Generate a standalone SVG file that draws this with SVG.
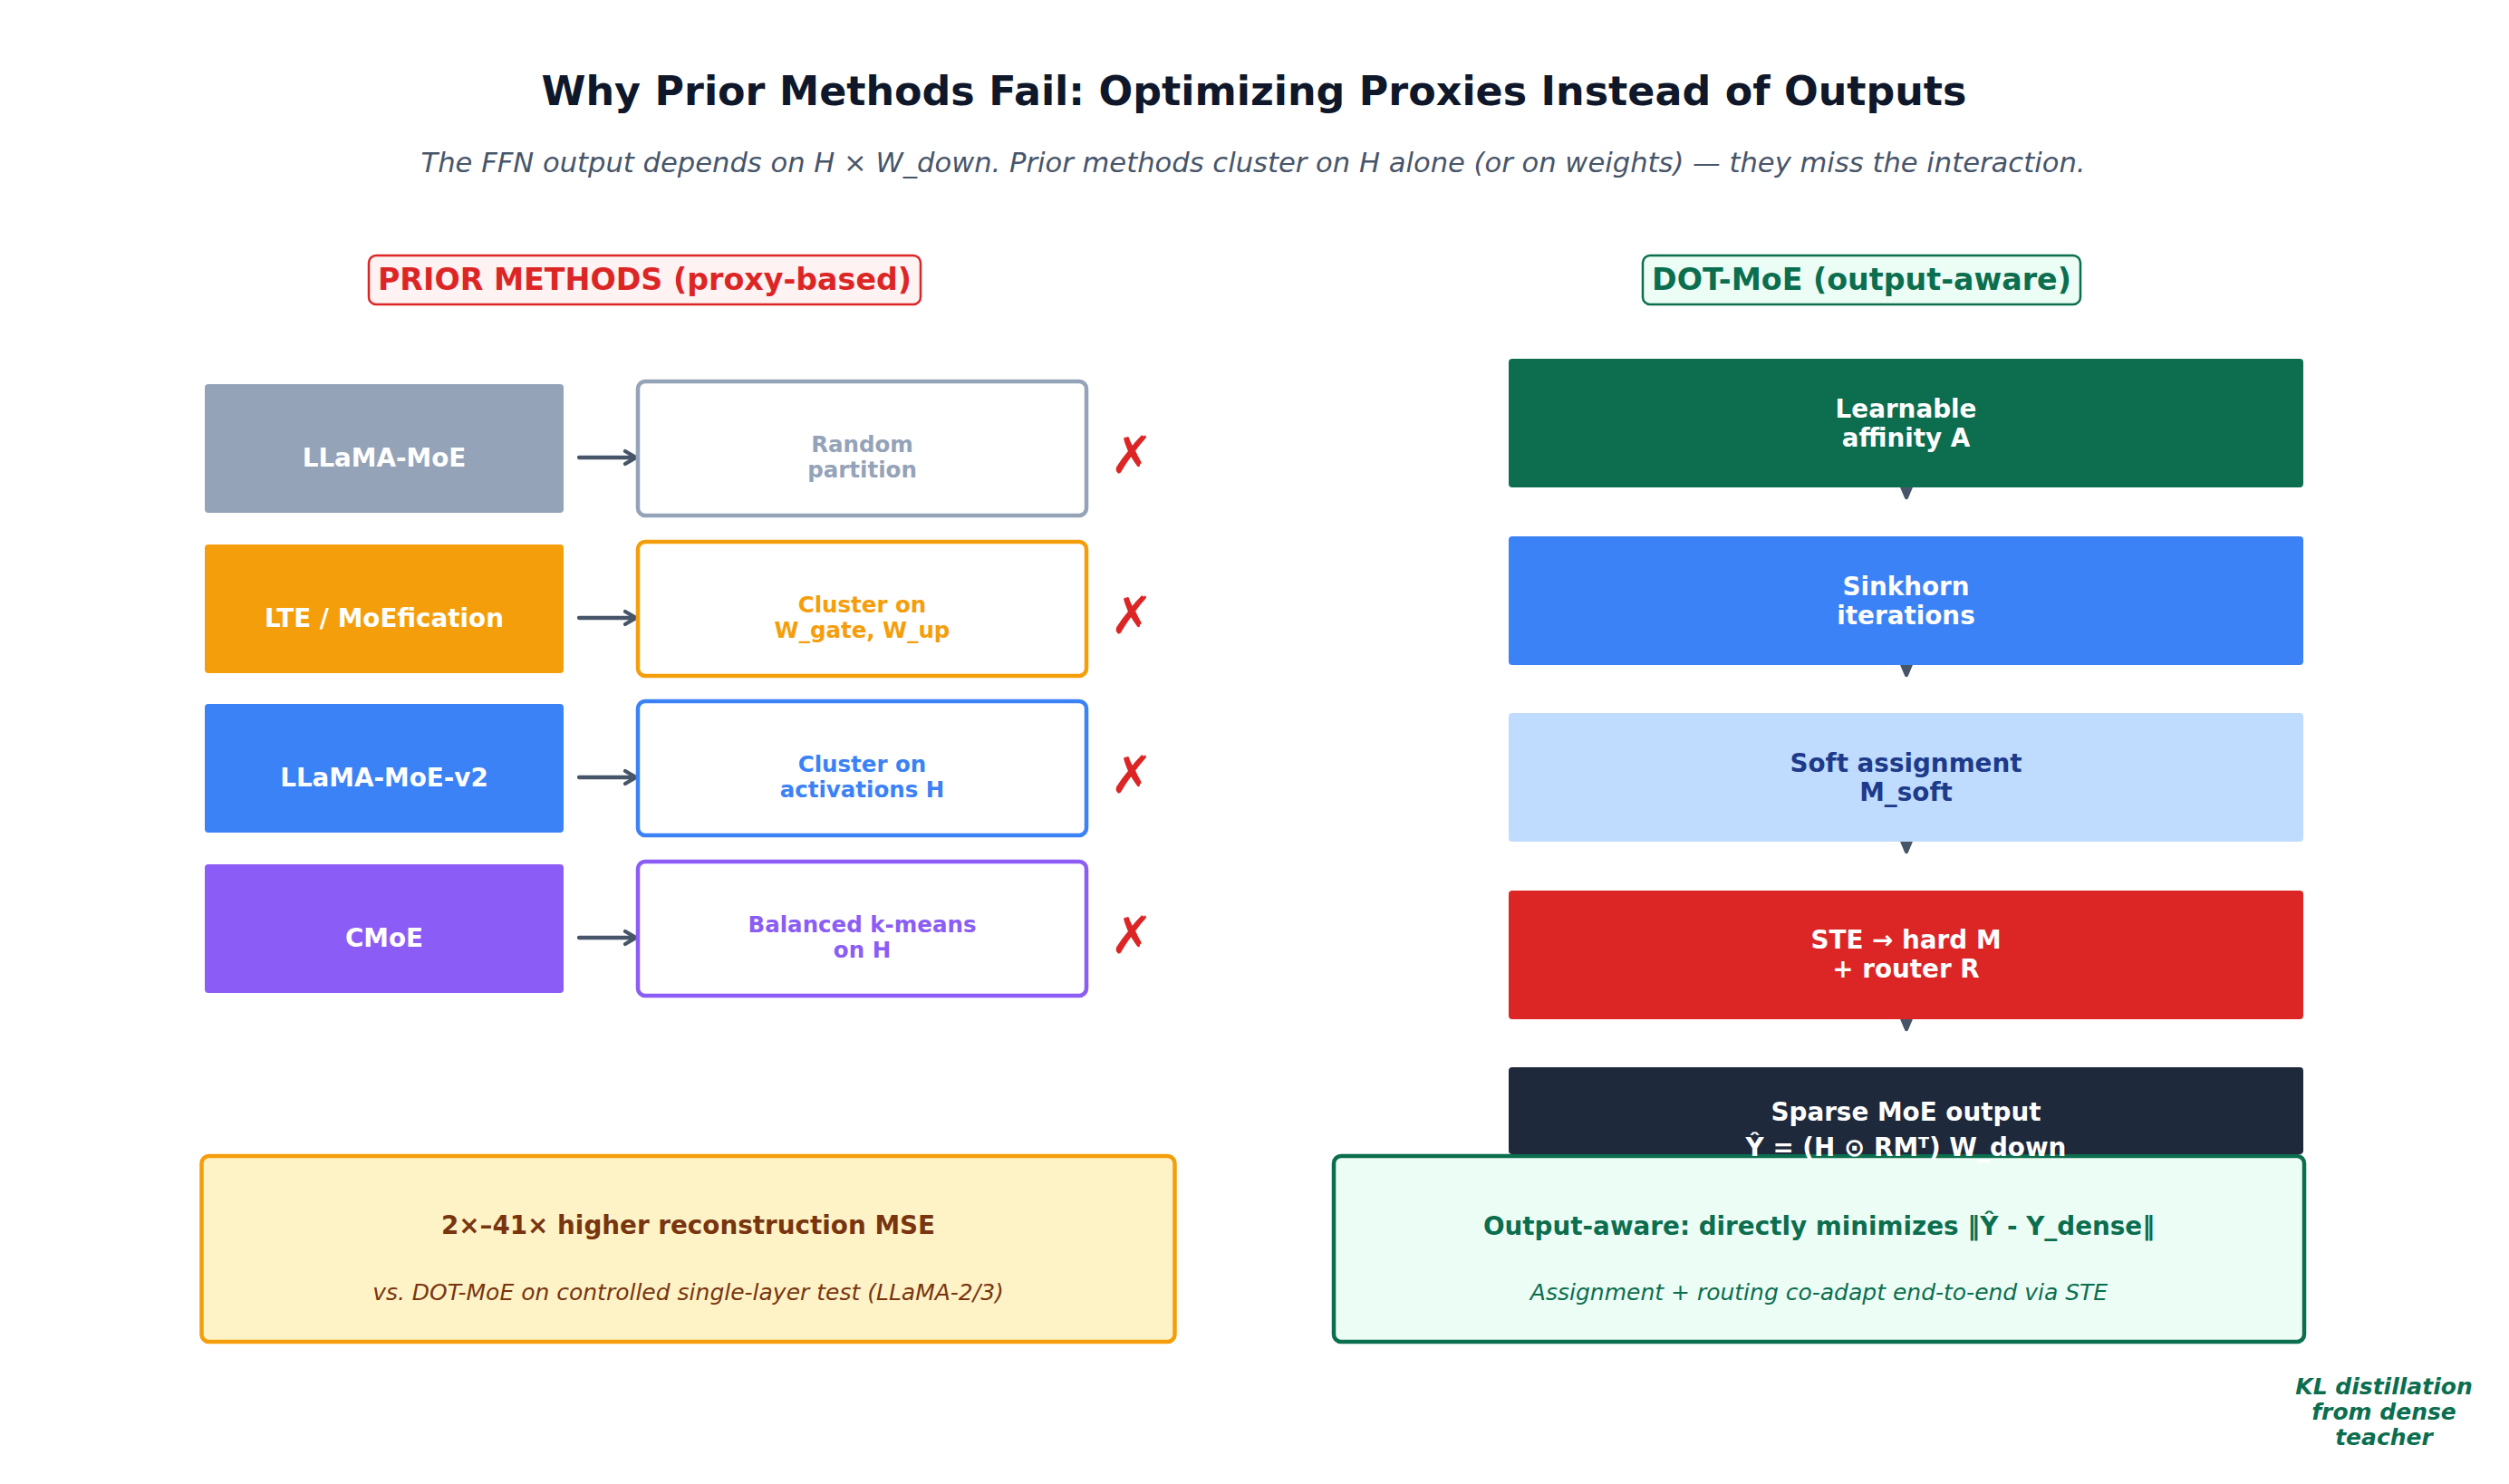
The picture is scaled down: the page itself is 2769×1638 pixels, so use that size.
<svg xmlns="http://www.w3.org/2000/svg" width="2769" height="1638" viewBox="0 0 2769 1638">
<style>
text{font-family:"DejaVu Sans","Noto Sans",sans-serif;text-anchor:middle}
.b{font-weight:bold}
.it{font-style:italic}
.title{font-size:44.4px;font-weight:bold;fill:#0f172a}
.sub{font-size:30.6px;font-style:italic;fill:#475569}
.lab{font-size:33.3px;font-weight:bold}
.fl{font-size:27.8px;font-weight:bold;fill:#ffffff}
.ol{font-size:24.5px;font-weight:bold}
.ob{fill:#ffffff;stroke-width:4.5}
.x{font-size:57px;fill:#dc2626}
.conn{stroke:#475569;stroke-width:4.3;fill:none;stroke-linecap:round;stroke-linejoin:round}
</style>
<rect width="2769" height="1638" fill="#ffffff"/>
<text class="title" x="1384" y="116">Why Prior Methods Fail: Optimizing Proxies Instead of Outputs</text>
<text class="sub" x="1383" y="190">The FFN output depends on H × W_down. Prior methods cluster on H alone (or on weights) — they miss the interaction.</text>

<g id="label-prior">
<rect x="407" y="282" width="609" height="54" rx="8" fill="#fef2f2" stroke="#dc2626" stroke-width="2.5"/>
<text class="lab" x="711.5" y="320" fill="#dc2626">PRIOR METHODS (proxy-based)</text>
</g>
<g id="label-dot">
<rect x="1813" y="282" width="483" height="54" rx="8" fill="#ecfdf5" stroke="#0b6e4f" stroke-width="2.5"/>
<text class="lab" x="2054.5" y="320" fill="#0b6e4f">DOT-MoE (output-aware)</text>
</g>

<g id="connectors">
<path class="conn" d="M639 505H700M690 498L702 505L690 512"/>
<path class="conn" d="M639 682H700M690 675L702 682L690 689"/>
<path class="conn" d="M639 858H700M690 851L702 858L690 865"/>
<path class="conn" d="M639 1035H700M690 1028L702 1035L690 1042"/>
<path class="conn" d="M2104 520V549M2096 530L2104 549L2112 530"/>
<path class="conn" d="M2104 716V745M2096 726L2104 745L2112 726"/>
<path class="conn" d="M2104 911V940M2096 921L2104 940L2112 921"/>
<path class="conn" d="M2104 1107V1136M2096 1117L2104 1136L2112 1117"/>
</g>

<g id="llama-moe">
<rect x="226" y="424" width="396" height="142" rx="4" fill="#94a3b8"/>
<text class="fl" x="424" y="515">LLaMA-MoE</text>
</g>
<g id="random-partition">
<rect class="ob" x="704" y="421" width="495" height="148" rx="8" stroke="#94a3b8"/>
<text class="ol" x="951.5" y="499" fill="#94a3b8">Random</text>
<text class="ol" x="951.5" y="527" fill="#94a3b8">partition</text>
</g>
<text class="x" x="1249" y="522">✗</text>

<g id="lte-moefication">
<rect x="226" y="601" width="396" height="142" rx="4" fill="#f59e0b"/>
<text class="fl" x="424" y="692">LTE / MoEfication</text>
</g>
<g id="cluster-weights">
<rect class="ob" x="704" y="598" width="495" height="148" rx="8" stroke="#f59e0b"/>
<text class="ol" x="951.5" y="676" fill="#f59e0b">Cluster on</text>
<text class="ol" x="951.5" y="704" fill="#f59e0b">W_gate, W_up</text>
</g>
<text class="x" x="1249" y="699">✗</text>

<g id="llama-moe-v2">
<rect x="226" y="777" width="396" height="142" rx="4" fill="#3b82f6"/>
<text class="fl" x="424" y="868">LLaMA-MoE-v2</text>
</g>
<g id="cluster-activations">
<rect class="ob" x="704" y="774" width="495" height="148" rx="8" stroke="#3b82f6"/>
<text class="ol" x="951.5" y="852" fill="#3b82f6">Cluster on</text>
<text class="ol" x="951.5" y="880" fill="#3b82f6">activations H</text>
</g>
<text class="x" x="1249" y="875">✗</text>

<g id="cmoe">
<rect x="226" y="954" width="396" height="142" rx="4" fill="#8b5cf6"/>
<text class="fl" x="424" y="1045">CMoE</text>
</g>
<g id="balanced-kmeans">
<rect class="ob" x="704" y="951" width="495" height="148" rx="8" stroke="#8b5cf6"/>
<text class="ol" x="951.5" y="1029" fill="#8b5cf6">Balanced k-means</text>
<text class="ol" x="951.5" y="1057" fill="#8b5cf6">on H</text>
</g>
<text class="x" x="1249" y="1052">✗</text>

<g id="learnable-affinity">
<rect x="1665" y="396" width="877" height="142" rx="4" fill="#0c6e4f"/>
<text class="fl" x="2103.5" y="461">Learnable</text>
<text class="fl" x="2103.5" y="493">affinity A</text>
</g>
<g id="sinkhorn">
<rect x="1665" y="592" width="877" height="142" rx="4" fill="#3b82f6"/>
<text class="fl" x="2103.5" y="657">Sinkhorn</text>
<text class="fl" x="2103.5" y="689">iterations</text>
</g>
<g id="soft-assignment">
<rect x="1665" y="787" width="877" height="142" rx="4" fill="#bfdbfe"/>
<text class="fl" x="2103.5" y="852" style="fill:#1e3a8a">Soft assignment</text>
<text class="fl" x="2103.5" y="884" style="fill:#1e3a8a">M_soft</text>
</g>
<g id="ste-hard">
<rect x="1665" y="983" width="877" height="142" rx="4" fill="#dc2626"/>
<text class="fl" x="2103.5" y="1047">STE → hard M</text>
<text class="fl" x="2103.5" y="1079">+ router R</text>
</g>

<g id="mse-box">
<rect x="222.5" y="1276" width="1074" height="205" rx="8" fill="#fef3c7" stroke="#f59e0b" stroke-width="4.5"/>
<text class="b" x="759.5" y="1362" font-size="27.8" fill="#78350f">2×–41× higher reconstruction MSE</text>
<text class="it" x="759.5" y="1435" font-size="25" fill="#78350f">vs. DOT-MoE on controlled single-layer test (LLaMA-2/3)</text>
</g>
<g id="output-aware-box">
<rect x="1472" y="1276" width="1071" height="205" rx="8" fill="#ecfdf5" stroke="#0b6e4f" stroke-width="4.5"/>
<text class="b" x="2007.5" y="1363" font-size="27.8" fill="#0b6e4f">Output-aware: directly minimizes ‖Ŷ - Y_dense‖</text>
<text class="it" x="2007.5" y="1435" font-size="25" fill="#0b6e4f">Assignment + routing co-adapt end-to-end via STE</text>
</g>
<g id="sparse-output">
<rect x="1665" y="1178" width="877" height="96" rx="4" fill="#1e293b"/>
<text class="fl" x="2103.5" y="1237">Sparse MoE output</text>
<text class="fl" x="2103.5" y="1276">Ŷ = (H ⊙ RMᵀ) W_down</text>
</g>

<g id="kl-note">
<text class="b it" x="2631" y="1539" font-size="25" fill="#0b6e4f">KL distillation</text>
<text class="b it" x="2631" y="1567" font-size="25" fill="#0b6e4f">from dense</text>
<text class="b it" x="2631" y="1595" font-size="25" fill="#0b6e4f">teacher</text>
</g>
</svg>
